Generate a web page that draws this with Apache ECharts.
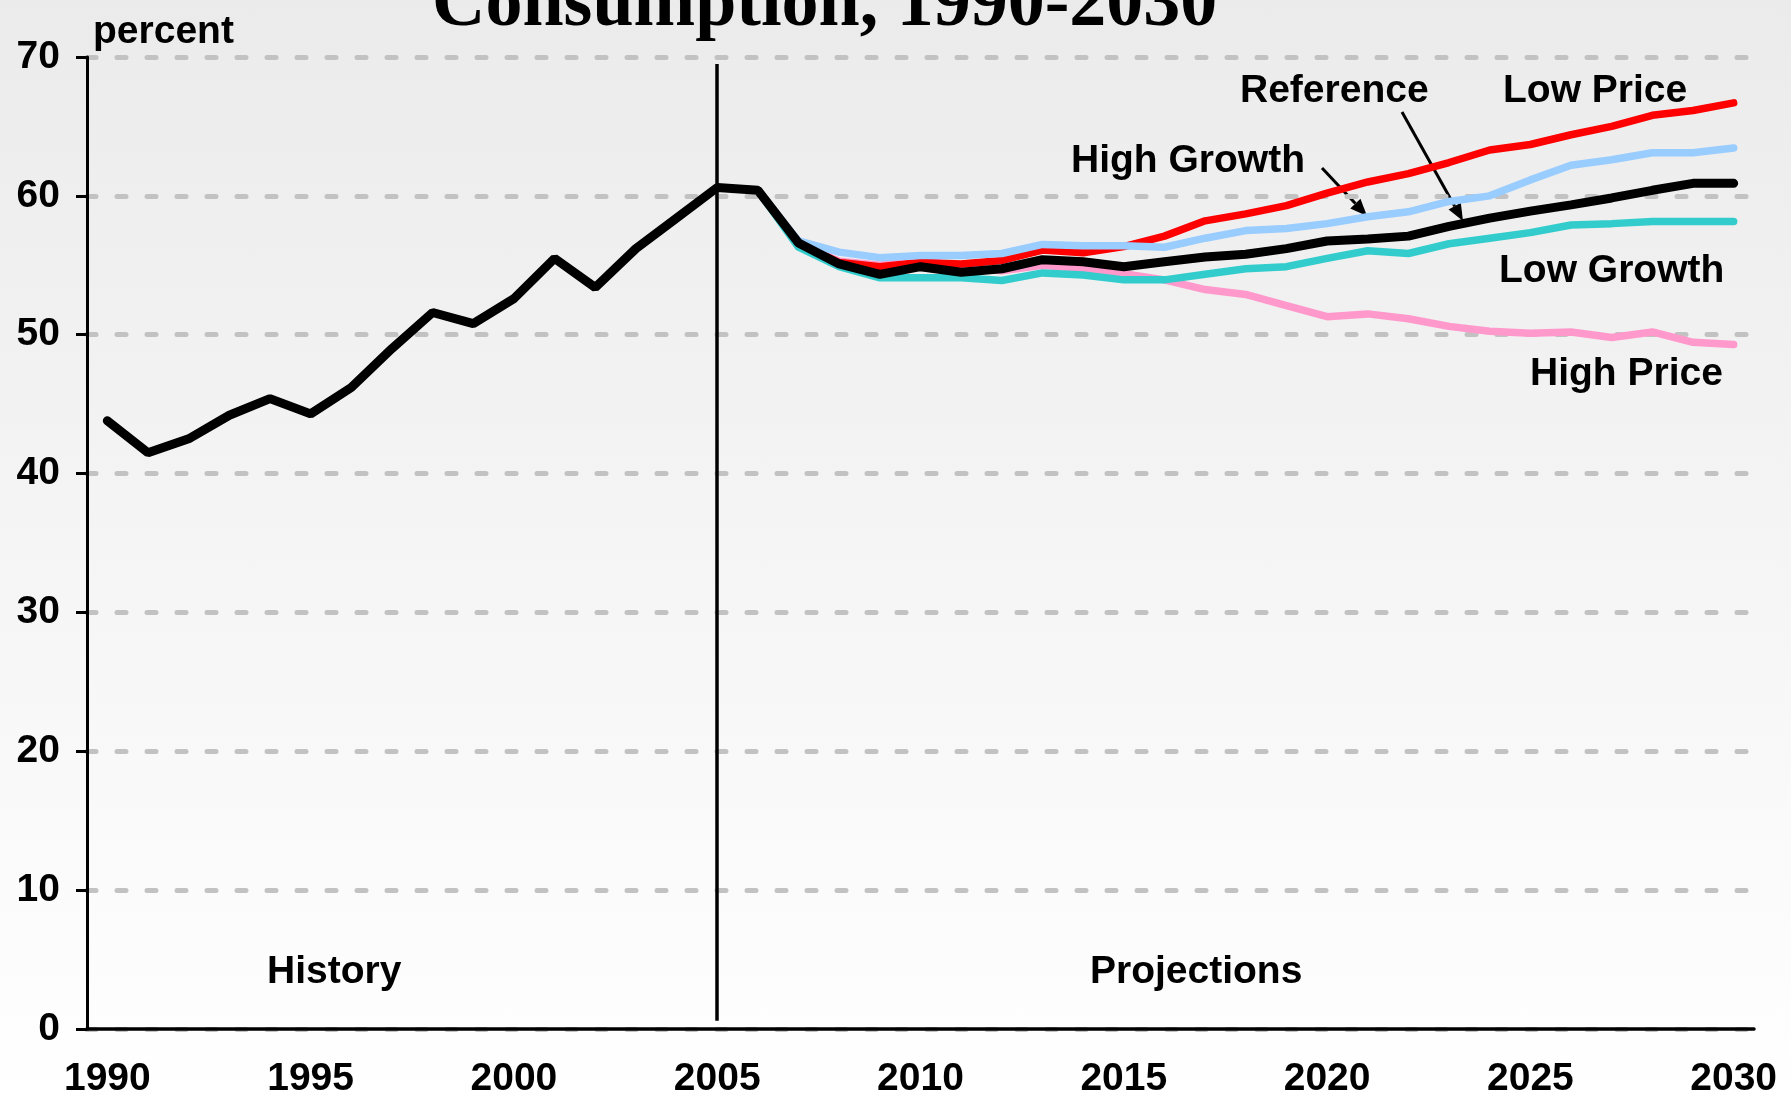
<!DOCTYPE html>
<html>
<head>
<meta charset="utf-8">
<title>Consumption, 1990-2030</title>
<script src="https://cdn.jsdelivr.net/npm/echarts@6/dist/echarts.min.js"></script>
<style>
  html, body { margin: 0; padding: 0; }
  #chart {
    width: 1791px;
    height: 1106px;
    background: linear-gradient(to bottom, #EBEBEB 0%, #FFFFFF 100%);
  }
</style>
</head>
<body>
<div id="chart"></div>
<script>
// years on the x axis
var years = [];
for (var y = 1990; y <= 2030; y++) years.push(String(y));

var yTicks = [0, 10, 20, 30, 40, 50, 60, 70];

// history 1990-2005 + reference case 2006-2030
var reference = [43.8, 41.5, 42.5, 44.2, 45.4, 44.3, 46.2, 49.0, 51.6, 50.8,
  52.6, 55.5, 53.4, 56.2, 58.4, 60.6,
  60.4, 56.6, 55.1, 54.35, 54.9, 54.5, 54.75, 55.4, 55.25, 54.9,
  55.25, 55.6, 55.8, 56.2, 56.75, 56.9, 57.1, 57.8, 58.4, 58.9,
  59.35, 59.85, 60.4, 60.9, 60.9];

// side cases, 2006-2030
var lowPrice = [60.4, 56.6, 55.2, 54.9, 55.2, 55.1, 55.35, 56.1, 55.9, 56.35,
  57.1, 58.2, 58.7, 59.3, 60.2, 61.0, 61.6, 62.4, 63.3, 63.7,
  64.4, 65.0, 65.8, 66.15, 66.7];
var highGrowth = [60.4, 56.75, 55.95, 55.55, 55.7, 55.7, 55.85, 56.5, 56.4, 56.4,
  56.3, 56.95, 57.5, 57.65, 58.0, 58.5, 58.85, 59.6, 60.0, 61.15,
  62.2, 62.6, 63.1, 63.1, 63.45];
var lowGrowth = [60.4, 56.3, 54.9, 54.1, 54.1, 54.1, 53.9, 54.45, 54.3, 53.95,
  53.95, 54.35, 54.75, 54.9, 55.5, 56.05, 55.85, 56.55, 56.95, 57.35,
  57.9, 58.0, 58.15, 58.15, 58.15];
var highPrice = [60.4, 56.5, 55.3, 55.0, 55.35, 54.9, 54.6, 55.0, 54.75, 54.4,
  53.95, 53.25, 52.9, 52.1, 51.3, 51.5, 51.15, 50.6, 50.25, 50.1,
  50.2, 49.8, 50.2, 49.45, 49.3];

var projStart = years.indexOf('2006');

// pad side cases with nulls before the projection start
function pad(arr) {
  var out = [];
  for (var i = 0; i < projStart; i++) out.push(null);
  return out.concat(arr);
}

var FONT = '"Liberation Sans", Arial, sans-serif';
var FS = 39;

function label(text, x, yBase) {
  return {
    type: 'text',
    left: x,
    top: yBase - 0.72 * FS - 2,
    style: { text: text, fill: '#000', font: 'bold ' + FS + 'px ' + FONT }
  };
}

function arrow(x1, y1, x2, y2) {
  var dx = x2 - x1, dy = y2 - y1;
  var len = Math.sqrt(dx * dx + dy * dy);
  var ux = dx / len, uy = dy / len;
  var hl = 17, hw = 7;
  var bx = x2 - ux * hl, by = y2 - uy * hl;
  return [
    {
      type: 'line',
      shape: { x1: x1, y1: y1, x2: bx, y2: by },
      style: { stroke: '#000', lineWidth: 3 }
    },
    {
      type: 'polygon',
      shape: { points: [[x2, y2], [bx - uy * hw, by + ux * hw], [bx + uy * hw, by - ux * hw]] },
      style: { fill: '#000' }
    }
  ];
}

var myChart = echarts.init(document.getElementById('chart'));

var lineBase = function (name, data, color, width, z) {
  return {
    name: name,
    type: 'line',
    data: data,
    symbol: 'none',
    z: z,
    lineStyle: { color: color, width: width, cap: 'round' },
    itemStyle: { color: color },
    connectNulls: false,
    animation: false
  };
};

var refSeries = lineBase('Reference', reference, '#000000', 9, 6);
refSeries.markLine = {
  silent: true,
  symbol: 'none',
  label: { show: false },
  lineStyle: { color: '#000', width: 3.5, type: 'solid' },
  data: [[{ coord: ['2005', 69.5] }, { coord: ['2005', 0.6] }]]
};

var option = {
  animation: false,
  backgroundColor: 'transparent',
  grid: { left: 87, right: 37, top: 57, bottom: 77 },
  xAxis: {
    type: 'category',
    data: years,
    boundaryGap: true,
    axisLine: { lineStyle: { color: '#000', width: 3.5 } },
    axisTick: { interval: 0, length: 11, lineStyle: { color: '#000', width: 2.5 } },
    axisLabel: {
      interval: 4,
      margin: 31,
      color: '#000',
      fontFamily: FONT,
      fontWeight: 'bold',
      fontSize: FS
    },
    splitLine: { show: false }
  },
  yAxis: {
    type: 'value',
    min: yTicks[0],
    max: yTicks[yTicks.length - 1],
    interval: 10,
    axisLine: { show: true, lineStyle: { color: '#000', width: 3 } },
    axisTick: { show: true, length: 11, lineStyle: { color: '#000', width: 3 } },
    axisLabel: {
      margin: 27,
      color: '#000',
      fontFamily: FONT,
      fontWeight: 'bold',
      fontSize: FS
    },
    splitLine: {
      lineStyle: { color: '#C2C2C2', width: 5, type: [9, 21], cap: 'round' }
    }
  },
  series: [
    lineBase('High Price', pad(highPrice), '#FF99CC', 7.5, 2),
    lineBase('Low Price', pad(lowPrice), '#FF0000', 7.5, 3),
    lineBase('High Growth', pad(highGrowth), '#99CCFF', 7.5, 4),
    lineBase('Low Growth', pad(lowGrowth), '#33CCCC', 7.5, 5),
    refSeries
  ],
  graphic: [
    {
      type: 'text',
      left: 432,
      top: -31,
      style: {
        text: 'Consumption, 1990-2030',
        fill: '#000',
        font: 'bold 74px "Liberation Serif", "Times New Roman", serif'
      }
    },
    label('percent', 93, 43),
    label('Reference', 1240, 102),
    label('Low Price', 1503, 102),
    label('High Growth', 1071, 172),
    label('Low Growth', 1499, 282),
    label('High Price', 1530, 385),
    label('History', 267, 983),
    label('Projections', 1090, 983)
  ].concat(arrow(1322, 168, 1367, 216)).concat(arrow(1402, 112, 1463, 221))
};

myChart.setOption(option);
</script>
</body>
</html>
